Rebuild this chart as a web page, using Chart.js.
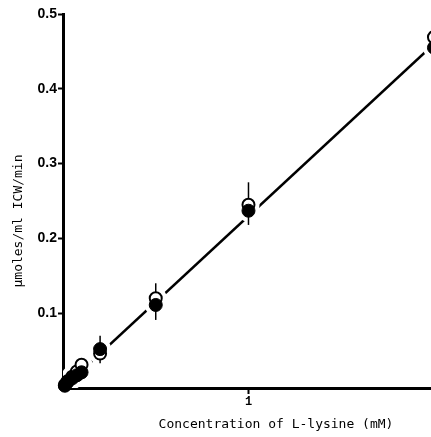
<!DOCTYPE html>
<html>
<head>
<meta charset="utf-8">
<script src="https://cdn.jsdelivr.net/npm/chart.js@4/dist/chart.umd.min.js"></script>
<style>
  html, body { margin: 0; padding: 0; background: #fff; }
  #wrap { width: 431px; height: 437px; }
</style>
</head>
<body>
<div id="wrap"><canvas id="lysineChart" width="431" height="437"></canvas></div>
<script>
// L-lysine concentration (mM)
const concX = [0.01, 0.025, 0.05, 0.075, 0.1, 0.2, 0.5, 1.0, 2.0];
// uptake rate, open circles and filled circles
const openRate = [0.004, 0.009, 0.015, 0.022, 0.031, 0.046, 0.120, 0.245, 0.469];
const filledRate = [0.003, 0.008, 0.013, 0.017, 0.021, 0.052, 0.111, 0.237, 0.455];

// error bars (upper and lower limits)
const errX = [0.1, 0.2, 0.5, 1.0];
const errHigh = [0.039, 0.070, 0.140, 0.275];
const errLow = [0.011, 0.033, 0.091, 0.218];

// fitted line
const fitX = [0, 2.0];
const fitY = [0, 0.46];

const xTickValues = [1];
const yTickValues = [0.1, 0.2, 0.3, 0.4, 0.5];

const toPoints = (xs, ys) => xs.map((x, i) => ({ x: x, y: ys[i] }));

// vertical error bars, drawn right after the white halos
const errorBars = {
  id: 'errorBars',
  afterDatasetDraw(chart, args) {
    if (args.index !== 1) return;
    const ctx = chart.ctx;
    const xs = chart.scales.x, ys = chart.scales.y;
    ctx.save();
    ctx.strokeStyle = '#000';
    ctx.lineWidth = 1.5;
    errX.forEach((x, i) => {
      const px = xs.getPixelForValue(x);
      ctx.beginPath();
      ctx.moveTo(px, ys.getPixelForValue(errHigh[i]));
      ctx.lineTo(px, ys.getPixelForValue(errLow[i]));
      ctx.stroke();
    });
    ctx.restore();
  }
};

// axis titles in typewriter style
const axisTitles = {
  id: 'axisTitles',
  afterDraw(chart) {
    const ctx = chart.ctx;
    const area = chart.chartArea;
    ctx.save();
    ctx.fillStyle = '#000';
    ctx.font = '13px "DejaVu Sans Mono"';
    ctx.textAlign = 'center';
    ctx.textBaseline = 'middle';
    ctx.fillText('Concentration of L-lysine (mM)', 276, area.bottom + 37);
    ctx.translate(19, area.top + 207);
    ctx.rotate(-Math.PI / 2);
    ctx.fillText('\u00b5moles/ml ICW/min', 0, 0);
    ctx.restore();
  }
};

const ctx = document.getElementById('lysineChart').getContext('2d');
new Chart(ctx, {
  type: 'scatter',
  data: {
    datasets: [
      {
        label: 'fit',
        data: toPoints(fitX, fitY),
        showLine: true,
        borderColor: '#000',
        borderWidth: 2.5,
        pointRadius: 0,
        order: 4
      },
      {
        label: 'halo',
        data: toPoints(concX, openRate).concat(toPoints(concX, filledRate)),
        pointRadius: 11,
        pointBackgroundColor: '#fff',
        pointBorderWidth: 0,
        borderColor: '#fff',
        order: 3
      },
      {
        label: 'open',
        data: toPoints(concX, openRate),
        pointRadius: 6,
        pointBackgroundColor: '#fff',
        pointBorderColor: '#000',
        pointBorderWidth: 2,
        clip: false,
        order: 2
      },
      {
        label: 'filled',
        data: toPoints(concX, filledRate),
        pointRadius: 6.5,
        pointBackgroundColor: '#000',
        pointBorderColor: '#000',
        pointBorderWidth: 1,
        clip: false,
        order: 1
      }
    ]
  },
  options: {
    responsive: false,
    animation: false,
    layout: { autoPadding: false, padding: { top: 14, right: 0, left: 0, bottom: 0 } },
    plugins: {
      legend: { display: false },
      tooltip: { enabled: false }
    },
    scales: {
      x: {
        type: 'linear',
        min: 0,
        max: 1.984,
        z: 1,
        afterBuildTicks: scale => { scale.ticks = xTickValues.map(v => ({ value: v })); },
        afterFit: scale => {
          scale.height = 49;
          scale.paddingLeft = 0;
          scale.paddingRight = 0;
        },
        ticks: {
          color: '#000',
          padding: 1,
          font: { family: '"Liberation Mono"', size: 12, weight: 'bold' },
          callback: v => String(v)
        },
        grid: { drawOnChartArea: false, drawTicks: true, tickLength: 6, tickWidth: 2, color: '#000' },
        border: { display: true, width: 3, color: '#000' }
      },
      y: {
        type: 'linear',
        min: 0,
        max: 0.5,
        z: 1,
        afterBuildTicks: scale => { scale.ticks = yTickValues.map(v => ({ value: v })); },
        afterFit: scale => {
          scale.width = 63;
          scale.paddingTop = 0;
          scale.paddingBottom = 0;
        },
        ticks: {
          color: '#000',
          padding: 1,
          font: { family: '"Liberation Sans", Arial', size: 14, weight: 'bold' },
          callback: v => v.toFixed(1)
        },
        grid: { drawOnChartArea: false, drawTicks: true, tickLength: 5, tickWidth: 2, color: '#000' },
        border: { display: true, width: 3, color: '#000' }
      }
    }
  },
  plugins: [errorBars, axisTitles]
});
</script>
</body>
</html>
